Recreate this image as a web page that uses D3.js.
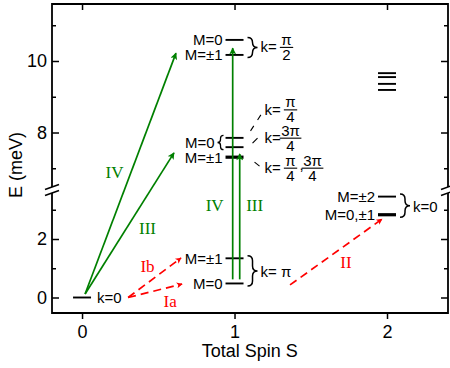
<!DOCTYPE html>
<html>
<head>
<meta charset="utf-8">
<script src="https://d3js.org/d3.v7.min.js"></script>
<style>
  body { margin: 0; background: #fff; }
  svg text { font-family: 'Liberation Sans', Arial, sans-serif; fill: #000; }
  svg text.roman { font-family: 'Liberation Serif', 'Times New Roman', serif; }
</style>
</head>
<body>
<div id="plot"></div>
<script>
// Axis ticks (total spin S, energy in meV on both sides of the break)
const spinTicks = [0, 1, 2];
const lowMajorTicks = [0, 2];
const lowMinorTicks = [1, 3];
const highMajorTicks = [8, 10];
const highMinorTicks = [7, 9, 11];

// Energy levels: total spin, energy (meV), multiplicity
const levels = [
  {s: 0, e: 0.00, deg: 1},
  {s: 1, e: 0.48, deg: 1},
  {s: 1, e: 1.34, deg: 2},
  {s: 1, e: 7.31, deg: 4},
  {s: 1, e: 7.59, deg: 1},
  {s: 1, e: 7.85, deg: 1},
  {s: 1, e: 10.17, deg: 2},
  {s: 1, e: 10.59, deg: 1},
  {s: 2, e: 2.83, deg: 3},
  {s: 2, e: 3.45, deg: 2},
  {s: 2, e: 9.19, deg: 1},
  {s: 2, e: 9.36, deg: 1},
  {s: 2, e: 9.55, deg: 1},
  {s: 2, e: 9.66, deg: 1}
];

// M labels left of the levels
const mLabels = [
  {s: 1, e: 0.48, text: 'M=0'},
  {s: 1, e: 1.34, text: 'M=±1'},
  {s: 1, e: 7.31, text: 'M=±1'},
  {s: 1, e: 10.17, text: 'M=±1'},
  {s: 1, e: 10.59, text: 'M=0'},
  {s: 2, e: 2.83, text: 'M=0,±1'},
  {s: 2, e: 3.45, text: 'M=±2'}
];
// M label shared by two levels (left brace)
const mGroups = [
  {s: 1, e0: 7.59, e1: 7.85, text: 'M=0'}
];
// k labels shared by two levels (right brace)
const kGroups = [
  {s: 1, e0: 10.17, e1: 10.59, k: [['π', '2']]},
  {s: 1, e0: 0.48, e1: 1.34, k: 'π'},
  {s: 2, e0: 2.83, e1: 3.45, k: '0'}
];
// single level k labels
const kLevels = [
  {s: 0, e: 0, k: '0'}
];
// k labels hooked to the 7-8 meV levels by dashes
const kNotes = [
  {s: 1, e: 7.85, k: [['π', '4']]},
  {s: 1, e: 7.59, k: [['3π', '4']]},
  {s: 1, e: 7.31, k: [['π', '4'], ['3π', '4']]}
];

// Optical (green) and neutron (red) transitions, [S, E] endpoints
const opticalTransitions = [
  {name: 'IV', from: [0.020, 0.12], to: [0.616, 10.22]},
  {name: 'III', from: [0.020, 0.12], to: [0.603, 7.43]},
  {name: 'IV', from: [0.988, 0.62], to: [0.988, 10.36]},
  {name: 'III', from: [1.034, 0.62], to: [1.034, 7.40]}
];
const neutronTransitions = [
  {name: 'Ia', from: [0.302, 0.00], to: [0.656, 0.46]},
  {name: 'Ib', from: [0.302, 0.00], to: [0.649, 1.35]},
  {name: 'II', from: [1.364, 0.43], to: [1.967, 2.68]}
];

class LevelDiagram {

  constructor(plotContainerId, totalWidth, totalHeight) {
    this.margins = {
      top: 4, bottom: 55, left: 52, right: 2,
      breakTop: 183, breakBottom: 189,
      ticks: {major: 7, minor: 4, bottom: 6},
      level: {halfWidth: 9},
      brace: {gap: 4, width: 10, overhang: 2.5},
      // offsets of transition names from the arrow midpoints
      names: [[-16, -2], [18, 5], [-18, 41], [15, -12], [15, 10], [-7, -12], [10, 10]],
      // k note layout relative to level: label baseline, dash start/end
      notes: [
        {dy: -23, from: [16, -7], to: [27, -24], dash: '6,7'},
        {dy: -4, from: [18, -4], to: [23, -9], dash: null},
        {dy: 16, from: [20, 5], to: [25, 9], dash: null}
      ]};
    this.green = '#008000';
    this.red = '#ff0000';
    this.totalWidth = totalWidth;
    this.totalHeight = totalHeight;
    this.width = totalWidth - this.margins.left - this.margins.right;
    this.height = totalHeight - this.margins.top - this.margins.bottom;
    this.plotContainer = d3.select('#' + plotContainerId);

    this.x = d3.scaleLinear().domain([-0.197, 2.4]).range([0, this.width]);
    // broken energy axis: two linear pieces
    this.yLow = d3.scaleLinear().domain([-0.530, 3.573]).range([this.height, this.margins.breakBottom]);
    this.yHigh = d3.scaleLinear().domain([6.476, 11.594]).range([this.margins.breakTop, 0]);
    this.y = (e) => (e > 5 ? this.yHigh(e) : this.yLow(e));
  }

  render() {
    this.plotContainer.selectAll('svg').remove();
    this.svg = this.plotContainer.append('svg')
      .attr('width', this.totalWidth)
      .attr('height', this.totalHeight);
    this.renderMarkers();
    this.plot = this.svg.append('g')
      .attr('class', 'plot-area')
      .attr('transform', 'translate(' + [this.margins.left, this.margins.top] + ')');
    this.renderAxes();
    this.renderLevels();
    this.renderTransitions();
    this.renderLabels();
  }

  renderMarkers() {
    let defs = this.svg.append('defs');
    [['head-green', this.green, 10, 7], ['head-red', this.red, 9, 6]].forEach(([id, color, len, wid]) => {
      defs.append('marker')
        .attr('id', id)
        .attr('viewBox', '0 0 10 10')
        .attr('refX', 9)
        .attr('refY', 5)
        .attr('markerUnits', 'userSpaceOnUse')
        .attr('markerWidth', len)
        .attr('markerHeight', wid)
        .attr('orient', 'auto')
        .append('path')
        .attr('d', 'M0,0L10,5L0,10L2.5,5Z')
        .attr('fill', color);
    });
  }

  styleAxis(g, labelled) {
    g.select('.domain').remove();
    g.selectAll('line').attr('stroke', '#000').attr('stroke-width', 1.5);
    g.attr('font-family', null).attr('font-size', 18);
    if (!labelled) g.selectAll('text').remove();
  }

  renderAxes() {
    let w = this.width, h = this.height, m = this.margins;
    let axes = this.plot.append('g').attr('class', 'axes');

    // left and right sides, major and minor ticks pointing inward
    [[this.yLow, lowMajorTicks, lowMinorTicks], [this.yHigh, highMajorTicks, highMinorTicks]].forEach(([scale, major, minor]) => {
      axes.append('g')
        .call(d3.axisLeft(scale).tickValues(major).tickSize(-m.ticks.major).tickPadding(5).tickFormat(d3.format('d')))
        .call(g => this.styleAxis(g, true));
      axes.append('g')
        .call(d3.axisLeft(scale).tickValues(minor).tickSize(-m.ticks.minor))
        .call(g => this.styleAxis(g, false));
      axes.append('g')
        .attr('transform', 'translate(' + [w, 0] + ')')
        .call(d3.axisRight(scale).tickValues(major).tickSize(-m.ticks.major))
        .call(g => this.styleAxis(g, false));
      axes.append('g')
        .attr('transform', 'translate(' + [w, 0] + ')')
        .call(d3.axisRight(scale).tickValues(minor).tickSize(-m.ticks.minor))
        .call(g => this.styleAxis(g, false));
    });

    axes.append('g')
      .attr('transform', 'translate(' + [0, h] + ')')
      .call(d3.axisBottom(this.x).tickValues(spinTicks).tickSize(m.ticks.bottom).tickPadding(6).tickFormat(d3.format('d')))
      .call(g => this.styleAxis(g, true));
    axes.append('g')
      .call(d3.axisTop(this.x).tickValues(spinTicks).tickSize(-m.ticks.bottom))
      .call(g => this.styleAxis(g, false));

    // frame with the break on both sides
    axes.append('path')
      .attr('d', 'M0,' + m.breakTop + 'V0H' + w + 'V' + m.breakTop +
        'M0,' + m.breakBottom + 'V' + h + 'H' + w + 'V' + m.breakBottom)
      .attr('fill', 'none')
      .attr('stroke', '#000')
      .attr('stroke-width', 1.8);
    [0, w].forEach(xb => {
      [m.breakTop, m.breakBottom].forEach(yb => {
        axes.append('line')
          .attr('x1', xb - 7).attr('y1', yb + 2.5)
          .attr('x2', xb + 7).attr('y2', yb - 2.5)
          .attr('stroke', '#000')
          .attr('stroke-width', 1.5);
      });
    });

    this.svg.append('text')
      .attr('transform', 'translate(' + [22, 165] + ') rotate(-90)')
      .attr('text-anchor', 'middle')
      .attr('font-size', 18)
      .text('E (meV)');
    this.svg.append('text')
      .attr('x', m.left + this.x(1.1))
      .attr('y', 357)
      .attr('text-anchor', 'middle')
      .attr('font-size', 18)
      .text('Total Spin S');
  }

  renderLevels() {
    let hw = this.margins.level.halfWidth;
    this.plot.append('g')
      .attr('class', 'levels')
      .selectAll('line')
      .data(levels)
      .enter()
      .append('line')
      .attr('x1', (d, i) => this.x(d.s) - hw)
      .attr('x2', (d, i) => this.x(d.s) + hw)
      .attr('y1', (d, i) => this.y(d.e))
      .attr('y2', (d, i) => this.y(d.e))
      .attr('stroke', '#000')
      .attr('stroke-width', (d, i) => (d.deg > 2 ? 3.2 : 1.9));
  }

  renderTransitions() {
    let names = this.margins.names;
    let all = opticalTransitions.map(d => Object.assign({color: this.green, head: 'head-green', dash: null}, d))
      .concat(neutronTransitions.map(d => Object.assign({color: this.red, head: 'head-red', dash: '8,5'}, d)));
    let g = this.plot.append('g').attr('class', 'transitions');
    g.selectAll('line')
      .data(all)
      .enter()
      .append('line')
      .attr('x1', (d, i) => this.x(d.from[0]))
      .attr('y1', (d, i) => this.y(d.from[1]))
      .attr('x2', (d, i) => this.x(d.to[0]))
      .attr('y2', (d, i) => this.y(d.to[1]))
      .attr('stroke', (d, i) => d.color)
      .attr('stroke-width', 1.7)
      .attr('stroke-dasharray', (d, i) => d.dash)
      .attr('marker-end', (d, i) => 'url(#' + d.head + ')');
    g.selectAll('text')
      .data(all)
      .enter()
      .append('text')
      .attr('class', 'roman')
      .attr('x', (d, i) => (this.x(d.from[0]) + this.x(d.to[0])) / 2 + names[i][0])
      .attr('y', (d, i) => (this.y(d.from[1]) + this.y(d.to[1])) / 2 + names[i][1])
      .attr('dy', '0.35em')
      .attr('text-anchor', 'middle')
      .attr('font-size', 17)
      .style('fill', (d, i) => d.color)
      .text((d, i) => d.name);
  }

  brace(x, y0, y1, w, dir) {
    // dir 1: '}' opening left, -1: '{'
    let r = Math.min(w / 2, (y1 - y0) / 4), xm = x + dir * w / 2, xt = x + dir * w, ym = (y0 + y1) / 2;
    return 'M' + [x, y0] + 'Q' + [xm, y0] + ' ' + [xm, y0 + r] + 'L' + [xm, ym - r] +
      'Q' + [xm, ym] + ' ' + [xt, ym] + 'Q' + [xm, ym] + ' ' + [xm, ym + r] +
      'L' + [xm, y1 - r] + 'Q' + [xm, y1] + ' ' + [x, y1];
  }

  fraction(g, cx, cy, num, den) {
    let t = g.append('text').attr('x', cx).attr('y', cy - 2.5).attr('text-anchor', 'middle').text(num);
    g.append('text').attr('x', cx).attr('y', cy + 12.5).attr('text-anchor', 'middle').text(den);
    let len = Math.max(13, t.node().getComputedTextLength() + 3);
    g.append('line')
      .attr('x1', cx - len / 2).attr('x2', cx + len / 2)
      .attr('y1', cy).attr('y2', cy)
      .attr('stroke', '#000').attr('stroke-width', 1.1);
  }

  // writes 'k= ...' starting at x, centred on y
  kText(g, x, y, k) {
    if (typeof k === 'string') {
      g.append('text').attr('x', x).attr('y', y + 6).text(k === '0' ? 'k=0' : 'k= ' + k);
      return;
    }
    g.append('text').attr('x', x).attr('y', y + 5).text('k=');
    k.forEach(([num, den], j) => {
      let cx = x + 26 + j * 22;
      if (j > 0) g.append('text').attr('x', cx - 13).attr('y', y + 2).text(',');
      this.fraction(g, cx, y, num, den);
    });
  }

  renderLabels() {
    let hw = this.margins.level.halfWidth, br = this.margins.brace;
    let g = this.plot.append('g').attr('class', 'labels').attr('font-size', 15);

    g.selectAll('text.m-label')
      .data(mLabels)
      .enter()
      .append('text')
      .attr('class', 'm-label')
      .attr('x', (d, i) => this.x(d.s) - hw - 3)
      .attr('y', (d, i) => this.y(d.e) + 5.5)
      .attr('text-anchor', 'end')
      .text((d, i) => d.text);

    mGroups.forEach(d => {
      let xb = this.x(d.s) - hw - 2, y0 = this.y(d.e1) - br.overhang, y1 = this.y(d.e0) + br.overhang;
      g.append('path')
        .attr('d', this.brace(xb, y0, y1, 6, -1))
        .attr('fill', 'none').attr('stroke', '#000').attr('stroke-width', 1.3);
      g.append('text')
        .attr('x', xb - 9)
        .attr('y', (y0 + y1) / 2 + 5)
        .attr('text-anchor', 'end')
        .text(d.text);
    });

    kGroups.forEach(d => {
      let xb = this.x(d.s) + hw + br.gap, y0 = this.y(d.e1) - br.overhang, y1 = this.y(d.e0) + br.overhang;
      g.append('path')
        .attr('d', this.brace(xb, y0, y1, br.width, 1))
        .attr('fill', 'none').attr('stroke', '#000').attr('stroke-width', 1.5);
      this.kText(g, xb + br.width + 3, (y0 + y1) / 2, d.k);
    });

    kLevels.forEach(d => {
      this.kText(g, this.x(d.s) + hw + 6, this.y(d.e), d.k);
    });

    kNotes.forEach((d, i) => {
      let n = this.margins.notes[i], x0 = this.x(d.s), y0 = this.y(d.e);
      g.append('line')
        .attr('x1', x0 + n.from[0]).attr('y1', y0 + n.from[1])
        .attr('x2', x0 + n.to[0]).attr('y2', y0 + n.to[1])
        .attr('stroke', '#000').attr('stroke-width', 1.1)
        .attr('stroke-dasharray', n.dash);
      this.kText(g, x0 + 30, y0 + n.dy - 5, d.k);
    });
  }
}

const diagram = new LevelDiagram('plot', 450, 368);
diagram.render();
</script>
</body>
</html>
